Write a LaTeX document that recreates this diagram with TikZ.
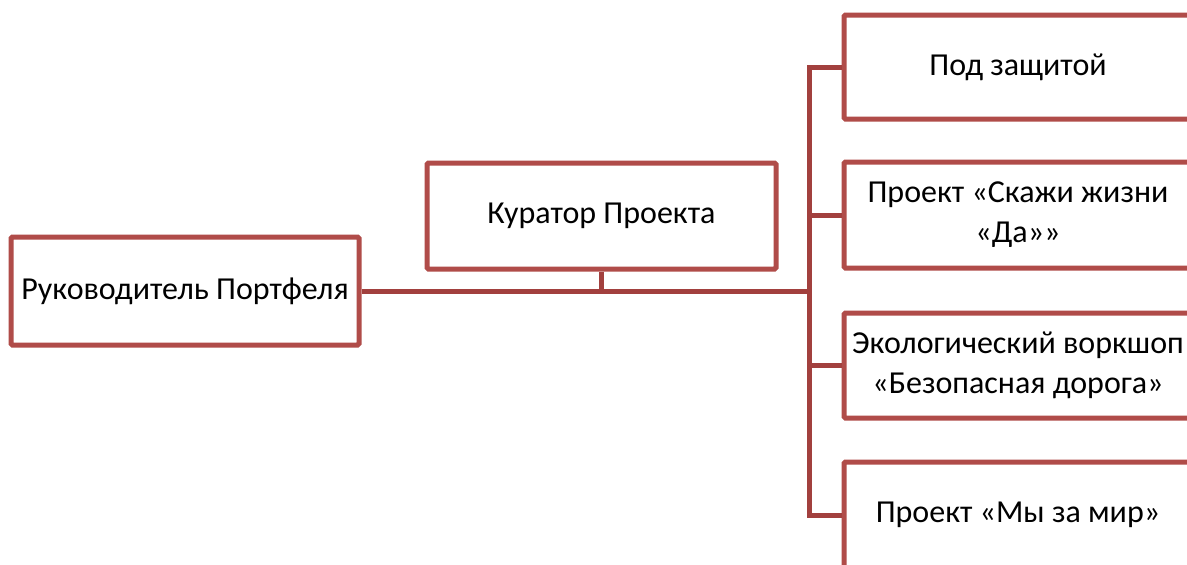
\documentclass[tikz,border=0pt]{standalone}
\usepackage{fontspec}
\setmainfont{Carlito}
\definecolor{boxc}{RGB}{176,76,73}
\definecolor{linec}{RGB}{162,64,62}
\begin{document}
\begin{tikzpicture}[x=1pt,y=-1pt,
  box/.style={draw=boxc,line width=5pt,fill=white,rounded corners=1.5pt,inner sep=0pt,
    font=\fontsize{32}{40}\selectfont,align=center},
  conn/.style={draw=linec,line width=5pt}]
\useasboundingbox (0,0) rectangle (1187,565);
\clip (0,0) rectangle (1187,565);
\fill[white] (0,0) rectangle (1187,565);
\coordinate (trunk) at (809,291);
\node[box,minimum width=348pt,minimum height=108pt] (A) at (185,291) {Руководитель Портфеля};
\node[box,minimum width=349pt,minimum height=106pt] (B) at (601.5,216) {Куратор Проекта};
\node[box,minimum width=348pt,minimum height=104pt] (R1) at (1018,67) {Под защитой};
\node[box,minimum width=348pt,minimum height=106pt] (R2) at (1018,215) {Проект «Скажи жизни\\«Да»»};
\node[box,minimum width=348pt,minimum height=105pt] (R3) at (1018,365.5) {Экологический воркшоп\\«Безопасная дорога»};
\node[box,minimum width=348pt,minimum height=106pt] (R4) at (1018,515) {Проект «Мы за мир»};
\draw[conn] (A.east) -- (trunk);
\draw[conn] (B.south) -- (B.south |- trunk);
\draw[conn] (R1.west) -- (R1.west -| trunk) -- (R4.west -| trunk) -- (R4.west);
\draw[conn] (R2.west -| trunk) -- (R2.west);
\draw[conn] (R3.west -| trunk) -- (R3.west);
\end{tikzpicture}
\end{document}
